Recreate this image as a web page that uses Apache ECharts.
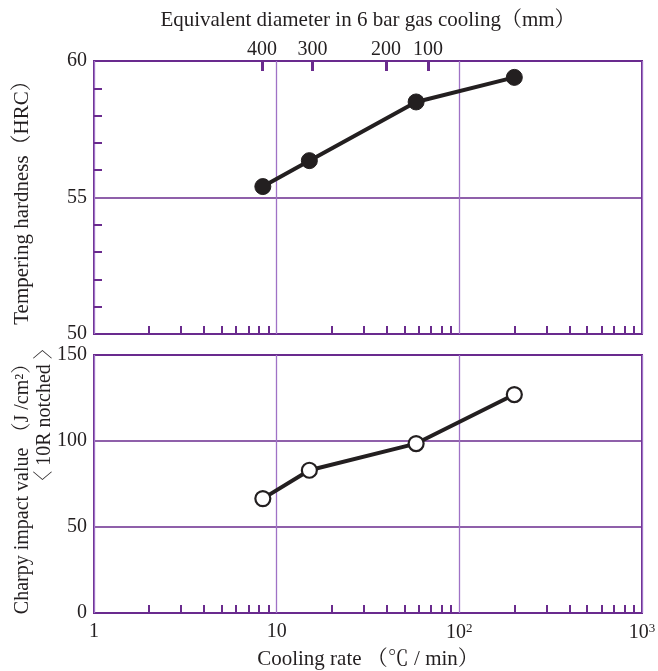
<!DOCTYPE html>
<html><head><meta charset="utf-8">
<script src="https://cdn.jsdelivr.net/npm/echarts@6/dist/echarts.min.js"></script>
<style>html,body{margin:0;padding:0;background:#fff}#c{width:658px;height:671px}</style>
</head><body><div id="c"></div><script>
// ---- data ----
const coolingRates = [8.4, 15.1, 58, 200];
const hardness = [55.4, 56.35, 58.5, 59.4];
const charpy = [66.5, 83, 98.5, 127];
// top (equivalent diameter) axis
const diameterLabels = ['400', '300', '200', '100'];
const diameterRates = [8.3, 15.7, 39.7, 67.4];
// minor log ticks
const minorRates = [2,3,4,5,6,7,8,9,20,30,40,50,60,70,80,90,200,300,400,500,600,700,800,900];
const hardnessTicks = [50, 55, 60];
const charpyTicks = [0, 50, 100, 150];

const FONT = "'Liberation Serif', 'Noto Serif CJK JP', 'Noto Sans CJK JP', serif";
const PURPLE = '#6a2b8e';
const LIGHT = '#9f72c6';
const INK = '#231f20';

const minorLogs = minorRates.map(v => Math.log10(v));
const diamLogs = diameterRates.map(v => Math.log10(v));

function minorAxis(grid) {
  return {
    gridIndex: grid, type: 'value', min: 0, max: 3, position: 'bottom',
    axisLine: {show: false}, axisLabel: {show: false}, splitLine: {show: false},
    axisTick: {show: true, inside: true, length: 8, customValues: minorLogs,
      lineStyle: {color: PURPLE, width: 2}}
  };
}

const supLabel = v => {
  if (Math.abs(v - 1) < 1e-6) return '1';
  if (Math.abs(v - 10) < 1e-6) return '10';
  if (Math.abs(v - 100) < 1e-6) return '10{s|2}';
  if (Math.abs(v - 1000) < 1e-6) return '10{s|3}';
  return '';
};

const chart = echarts.init(document.getElementById('c'), null, {renderer: 'canvas'});
chart.setOption({
  animation: false,
  backgroundColor: '#fff',
  textStyle: {fontFamily: FONT, color: INK},
  grid: [
    {left: 94, right: 16, top: 61, height: 273, show: true, borderColor: PURPLE, borderWidth: 2,
      backgroundColor: 'transparent', containLabel: false, outerBoundsMode: 'none'},
    {left: 94, right: 16, top: 355, height: 258, show: true, borderColor: PURPLE, borderWidth: 2,
      backgroundColor: 'transparent', containLabel: false, outerBoundsMode: 'none'}
  ],
  xAxis: [
    {gridIndex: 0, type: 'log', logBase: 10, min: 1, max: 1000, position: 'bottom',
      axisLine: {show: false}, axisTick: {show: false}, axisLabel: {show: false},
      splitLine: {show: true, lineStyle: {color: LIGHT, width: 1.3}}},
    minorAxis(0),
    {gridIndex: 0, type: 'value', min: 0, max: 3, position: 'top',
      axisLine: {show: false}, splitLine: {show: false},
      axisTick: {show: true, inside: true, length: 10, customValues: diamLogs,
        lineStyle: {color: PURPLE, width: 3}},
      axisLabel: {show: true, margin: 1, customValues: diamLogs, fontFamily: FONT, fontSize: 20, color: INK,
        formatter: v => {
          let best = 0;
          diamLogs.forEach((d, i) => { if (Math.abs(d - v) < Math.abs(diamLogs[best] - v)) best = i; });
          return diameterLabels[best];
        }},
      name: 'Equivalent diameter in 6 bar gas cooling（mm）', nameLocation: 'middle', nameGap: 30,
      nameTextStyle: {fontFamily: FONT, fontSize: 21, color: INK}},
    {gridIndex: 1, type: 'log', logBase: 10, min: 1, max: 1000, position: 'bottom',
      axisLine: {show: false}, axisTick: {show: false},
      splitLine: {show: true, lineStyle: {color: LIGHT, width: 1.3}},
      axisLabel: {show: true, margin: 9, fontFamily: FONT, fontSize: 20, color: INK, formatter: supLabel,
        rich: {s: {fontFamily: FONT, fontSize: 13, color: INK, verticalAlign: 'bottom', padding: [0, 0, 9, 0]}}},
      name: 'Cooling rate （℃ / min）', nameLocation: 'middle', nameGap: 36,
      nameTextStyle: {fontFamily: FONT, fontSize: 21, color: INK}},
    minorAxis(1)
  ],
  yAxis: [
    {gridIndex: 0, type: 'value', min: hardnessTicks[0], max: hardnessTicks[2], interval: 5,
      axisLine: {show: false},
      axisTick: {show: false, inside: true},
      minorTick: {show: true, splitNumber: 5, length: 8, lineStyle: {color: PURPLE, width: 2}},
      splitLine: {show: true, lineStyle: {color: PURPLE, width: 1.6}},
      axisLabel: {fontFamily: FONT, fontSize: 20, color: INK, margin: 7},
      name: 'Tempering hardness（HRC）', nameLocation: 'middle', nameRotate: 90, nameGap: 61,
      nameTextStyle: {fontFamily: FONT, fontSize: 21, color: INK}},
    {gridIndex: 1, type: 'value', min: charpyTicks[0], max: charpyTicks[3], interval: 50,
      axisLine: {show: false}, axisTick: {show: false},
      splitLine: {show: true, lineStyle: {color: PURPLE, width: 1.6}},
      axisLabel: {fontFamily: FONT, fontSize: 20, color: INK, margin: 7},
      name: 'Charpy impact value （J /cm²）', nameLocation: 'middle', nameRotate: 90, nameGap: 61,
      nameTextStyle: {fontFamily: FONT, fontSize: 20, color: INK}}
  ],
  graphic: [
    {type: 'text', x: 45, y: 415, rotation: Math.PI / 2,
      style: {text: '〈 10R notched 〉', font: '20px ' + FONT, fill: INK, align: 'center', verticalAlign: 'middle'}}
  ],
  series: [
    {type: 'line', xAxisIndex: 0, yAxisIndex: 0, data: coolingRates.map((x, i) => [x, hardness[i]]),
      symbol: 'circle', symbolSize: 16, lineStyle: {color: INK, width: 4},
      itemStyle: {color: INK, borderColor: INK, borderWidth: 1}, z: 5},
    {type: 'line', xAxisIndex: 3, yAxisIndex: 1, data: coolingRates.map((x, i) => [x, charpy[i]]),
      symbol: 'circle', symbolSize: 15, lineStyle: {color: INK, width: 4},
      itemStyle: {color: '#fff', borderColor: INK, borderWidth: 2.2}, z: 5}
  ]
});
</script></body></html>
